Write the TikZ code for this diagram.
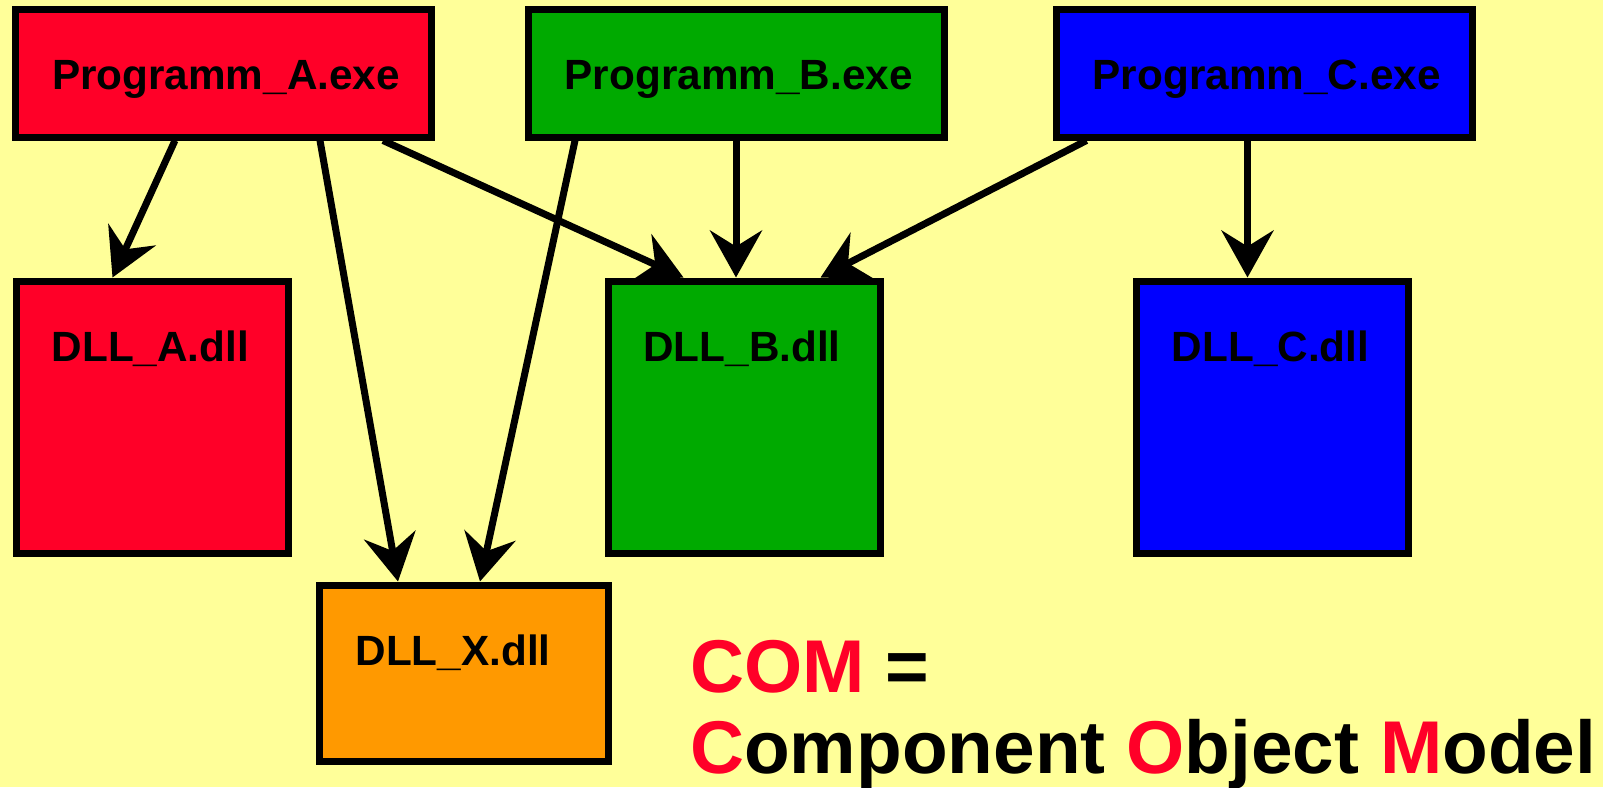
\documentclass[tikz,border=0pt]{standalone}
\usepackage{fontspec}
\setmainfont{Liberation Sans}
\usetikzlibrary{arrows.meta,calc}
\definecolor{bgyellow}{RGB}{255,255,153}
\definecolor{boxred}{RGB}{255,0,40}
\definecolor{boxgreen}{RGB}{0,170,0}
\definecolor{boxblue}{RGB}{0,0,255}
\definecolor{boxorange}{RGB}{255,153,0}
\begin{document}
\begin{tikzpicture}[x=1pt,y=-1pt,
  boxstyle/.style={draw=black, line width=7pt, inner sep=0pt, rectangle},
  progbox/.style={boxstyle, minimum width=416pt, minimum height=128pt},
  dllbox/.style={boxstyle, minimum width=272pt, minimum height=272pt},
  lbl/.style={anchor=base, font=\bfseries\fontsize{42.3}{46}\selectfont, inner sep=0pt},
  conn/.style={line width=7pt, -{Stealth[length=47pt, width=52pt, inset=16pt]}},
  bigtxt/.style={anchor=base west, font=\bfseries\fontsize{74.8}{80}\selectfont, inner sep=0pt}
]
\fill[bgyellow] (0,0) rectangle (1603,787);
\useasboundingbox (0,0) rectangle (1603,787);

% program boxes
\node[progbox, fill=boxred]   (pa) at (223.5,73) {};
\node[progbox, fill=boxgreen] (pb) at (736,73) {};
\node[progbox, fill=boxblue]  (pc) at (1264,73) {};

% dll boxes
\node[dllbox, fill=boxred]   (da) at (152,417) {};
\node[dllbox, fill=boxgreen] (db) at (744,417) {};
\node[dllbox, fill=boxblue]  (dc) at (1272,417) {};
\node[boxstyle, fill=boxorange, minimum width=288.5pt, minimum height=176.5pt] (dx) at (463.75,673.25) {};

% labels
\node[lbl] (tpa) at (226,89.8) {Programm\_A.exe};
\node[lbl] (tpb) at (738.7,89.8) {Programm\_B.exe};
\node[lbl] (tpc) at (1266.7,89.8) {Programm\_C.exe};
\node[lbl] (tda) at (150.4,361.8) {DLL\_A.dll};
\node[lbl] (tdb) at (742,361.8) {DLL\_B.dll};
\node[lbl] (tdc) at (1270.5,361.8) {DLL\_C.dll};
\node[lbl] (tdx) at (453,665.3) {DLL\_X.dll};

% connectors
\draw[conn] ([xshift=163pt]pa.south west) -- ([xshift=100pt]da.north west);
\draw[conn] ([xshift=308pt]pa.south west) -- ([xshift=82pt]dx.north west);
\draw[conn] ([xshift=371pt]pa.south west) -- ([xshift=79pt]db.north west);
\draw[conn] ([xshift=50.5pt]pb.south west) -- ([xshift=164pt]dx.north west);
\draw[conn] ([xshift=211.5pt]pb.south west) -- ([xshift=131.5pt]db.north west);
\draw[conn] ([xshift=34pt]pc.south west) -- ([xshift=216pt]db.north west);
\draw[conn] ([xshift=195pt]pc.south west) -- ([xshift=115pt]dc.north west);

% COM text
\node[bigtxt] (com) at (690,692.7) {\textcolor{boxred}{COM} =};
\node[bigtxt] (cmodel) at (690,773.3) {\textcolor{boxred}{C}omponent \textcolor{boxred}{O}bject \textcolor{boxred}{M}odel};
\end{tikzpicture}
\end{document}
